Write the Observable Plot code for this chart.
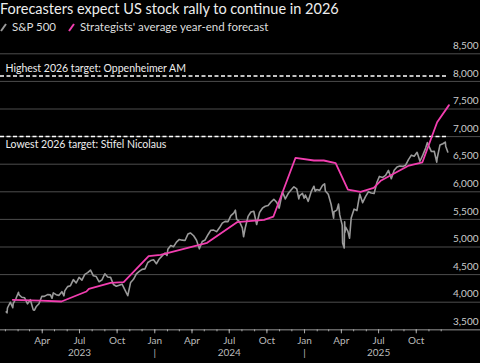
<!DOCTYPE html>
<html>
<head>
<meta charset="utf-8">
<script src="https://cdn.jsdelivr.net/npm/d3@7"></script>
<script src="https://cdn.jsdelivr.net/npm/@observablehq/plot@0.6"></script>
<style>
  html, body { margin: 0; padding: 0; background: #000; }
  #wrap { position: relative; width: 480px; height: 363px; overflow: hidden; background: #000; font-family: Lato, "Liberation Sans", sans-serif; }
  #title { position: absolute; left: 0; top: 0; font-size: 14.5px; line-height: 17px; color: #eee; white-space: nowrap; }
  #legend { position: absolute; left: 0; top: 19px; font-size: 11.5px; line-height: 16px; color: #ddd; white-space: nowrap; display: flex; align-items: center; }
  #legend .item { display: flex; align-items: center; margin-right: 12px; }
  #legend svg { margin-right: 5px; }
  #chart { position: absolute; left: 0; top: 36px; }
</style>
</head>
<body>
<div id="wrap">
  <div id="title">Forecasters expect US stock rally to continue in 2026</div>
  <div id="legend"></div>
  <div id="chart"></div>
</div>
<script>
// ---- data ----
const spxDates = [
"2023-01-03","2023-01-05","2023-01-06","2023-01-13","2023-01-19","2023-01-20","2023-01-27","2023-02-02","2023-02-03","2023-02-10","2023-02-17","2023-02-24","2023-03-03","2023-03-10","2023-03-13","2023-03-17","2023-03-24","2023-03-31","2023-04-06","2023-04-14","2023-04-21","2023-04-25","2023-04-28","2023-05-05","2023-05-12","2023-05-19","2023-05-24","2023-05-26","2023-06-02","2023-06-09","2023-06-16","2023-06-23","2023-06-30","2023-07-07","2023-07-14","2023-07-21","2023-07-28","2023-08-04","2023-08-11","2023-08-18","2023-08-25","2023-09-01","2023-09-08","2023-09-15","2023-09-22","2023-09-29","2023-10-06","2023-10-13","2023-10-20","2023-10-27","2023-11-03","2023-11-10","2023-11-17","2023-11-24","2023-12-01","2023-12-08","2023-12-15","2023-12-22","2023-12-29",
"2024-01-05","2024-01-12","2024-01-19","2024-01-26","2024-01-31","2024-02-02","2024-02-09","2024-02-16","2024-02-23","2024-03-01","2024-03-08","2024-03-15","2024-03-22","2024-03-28","2024-04-05","2024-04-12","2024-04-19","2024-04-26","2024-05-03","2024-05-10","2024-05-17","2024-05-24","2024-05-31","2024-06-07","2024-06-14","2024-06-21","2024-06-28","2024-07-05","2024-07-12","2024-07-16","2024-07-19","2024-07-26","2024-08-02","2024-08-05","2024-08-09","2024-08-16","2024-08-23","2024-08-30","2024-09-06","2024-09-13","2024-09-20","2024-09-27","2024-10-04","2024-10-11","2024-10-18","2024-10-25","2024-10-31","2024-11-08","2024-11-15","2024-11-22","2024-11-29","2024-12-06","2024-12-13","2024-12-18","2024-12-20","2024-12-27","2024-12-31",
"2025-01-03","2025-01-10","2025-01-17","2025-01-24","2025-01-27","2025-01-31","2025-02-07","2025-02-14","2025-02-19","2025-02-21","2025-02-28","2025-03-07","2025-03-13","2025-03-14","2025-03-21","2025-03-25","2025-03-28","2025-04-03","2025-04-04","2025-04-08","2025-04-09","2025-04-10","2025-04-11","2025-04-17","2025-04-21","2025-04-25","2025-05-02","2025-05-09","2025-05-16","2025-05-23","2025-05-30","2025-06-06","2025-06-13","2025-06-20","2025-06-27","2025-07-03","2025-07-11","2025-07-18","2025-07-25","2025-08-01","2025-08-08","2025-08-15","2025-08-22","2025-08-29","2025-09-05","2025-09-12","2025-09-19","2025-09-26","2025-10-03","2025-10-10","2025-10-17","2025-10-24","2025-10-28","2025-10-31","2025-11-07","2025-11-14","2025-11-20","2025-11-21","2025-11-28","2025-12-05","2025-12-11","2025-12-12","2025-12-17"
];
const spxValues = [
3825,3808,3895,3999,3899,3972,4071,4180,4136,4090,4079,3970,4045,3861,3855,3917,3971,4109,4105,4137,4133,4071,4169,4136,4124,4191,4115,4205,4282,4299,4409,4348,4450,4399,4505,4536,4582,4478,4464,4370,4406,4515,4457,4450,4320,4288,4308,4327,4224,4117,4358,4415,4514,4559,4595,4604,4719,4754,4770,
4697,4784,4840,4891,4846,4959,5027,5006,5089,5137,5124,5117,5234,5254,5204,5123,4967,5100,5128,5223,5303,5305,5278,5347,5432,5465,5460,5567,5615,5667,5505,5459,5346,5186,5344,5554,5634,5648,5408,5626,5703,5738,5751,5815,5864,5808,5705,5996,5871,5969,6032,6090,6051,5872,5931,5971,5882,
5942,5827,5997,6101,6012,6041,6026,6115,6144,6013,5955,5770,5522,5639,5668,5777,5581,5397,5074,4983,5457,5268,5363,5283,5158,5525,5686,5660,5958,5803,5912,6000,5977,5968,6173,6279,6260,6297,6389,6238,6389,6450,6467,6460,6482,6584,6664,6644,6716,6553,6664,6792,6891,6840,6729,6734,6538,6603,6849,6870,6901,6827,6721
];
const fcDates = ["2023-01-19","2023-03-28","2023-05-18","2023-07-18","2023-07-24","2023-09-15","2023-10-17","2023-12-17","2024-01-15","2024-05-08","2024-05-16","2024-07-20","2024-09-24","2024-10-17","2024-12-10","2025-01-24","2025-02-17","2025-03-18","2025-04-17","2025-05-18","2025-06-19","2025-07-06","2025-09-13","2025-10-16","2025-11-21","2025-12-20"];
const fcValues = [4043,4030,4013,4194,4243,4351,4362,4833,4858,5076,5118,5449,5493,5552,6616,6567,6567,6518,6040,6000,6070,6200,6475,6535,7260,7570];
const targetValues = [8100, 7000];
const targetLabels = ["Highest 2026 target: Oppenheimer AM", "Lowest 2026 target: Stifel Nicolaus"];
const yTicks = [3500,4000,4500,5000,5500,6000,6500,7000,7500,8000,8500];
const seriesNames = ["S&P 500", "Strategists' average year-end forecast"];
const seriesColors = ["#9a9a9a", "#f23eb0"];
const quarterTicks = ["2023-04-01","2023-07-01","2023-10-01","2024-01-01","2024-04-01","2024-07-01","2024-10-01","2025-01-01","2025-04-01","2025-07-01","2025-10-01"];
const yearLabelDates = ["2023-07-01","2024-07-01","2025-07-01"];
const yearSepDates = ["2024-01-01","2025-01-01"];
const xDomain = ["2022-12-20","2026-03-07"];
const dashEnd = "2025-12-17";

// ---- build ----
const P = d3.utcParse("%Y-%m-%d");
const spx = spxDates.map((d, i) => ({date: P(d), value: spxValues[i]}));
const fc = fcDates.map((d, i) => ({date: P(d), value: fcValues[i]}));
const x0 = P(xDomain[0]), x1 = P(xDomain[1]), xe = P(dashEnd);
const monthTicks = d3.utcMonths(P("2023-01-01"), P("2026-01-01"));
const qTicks = quarterTicks.map(P);
const fontFamily = "Lato, 'Liberation Sans', sans-serif";

// legend
const legend = document.getElementById("legend");
seriesNames.forEach((name, i) => {
  const item = document.createElement("div");
  item.className = "item";
  item.innerHTML = `<svg width="7" height="9"><line x1="1" y1="8" x2="6" y2="1" stroke="${seriesColors[i]}" stroke-width="2"/></svg><span>${name}</span>`;
  legend.appendChild(item);
});

const chart = Plot.plot({
  width: 480,
  height: 327,
  marginTop: 17.3,
  marginBottom: 33.7,
  marginLeft: 0,
  marginRight: 0,
  style: {background: "transparent", color: "#bbb", fontFamily, fontSize: "10px"},
  x: {type: "utc", domain: [x0, x1]},
  y: {domain: [3500, 8500], axis: null},
  marks: [
    Plot.gridY(yTicks, {stroke: "#4d4d4d", strokeOpacity: 1}),
    Plot.ruleY([3500], {stroke: "#777"}),
    Plot.text(yTicks, {x: () => x1, y: d => d, text: d3.format(","), textAnchor: "end", dx: -2, dy: -8, fill: "#ccc", fontSize: 10}),
    Plot.ruleY(targetValues, {x1: () => x0, x2: () => xe, stroke: "#fff", strokeDasharray: "4,2.5", strokeWidth: 1.5}),
    Plot.text([targetLabels[0]], {x: () => x0, y: () => targetValues[0], text: d => d, textAnchor: "start", dx: 5, dy: -7, fill: "#eee", fontSize: 10.5}),
    Plot.text([targetLabels[1]], {x: () => x0, y: () => targetValues[1], text: d => d, textAnchor: "start", dx: 5, dy: 8, fill: "#eee", fontSize: 10.5}),
    Plot.line(spx, {x: "date", y: "value", stroke: seriesColors[0], strokeWidth: 1.6}),
    Plot.line(fc, {x: "date", y: "value", stroke: seriesColors[1], strokeWidth: 1.8}),
    Plot.axisX(monthTicks, {tickSize: 2, tickFormat: () => "", stroke: "#aaa", label: null}),
    Plot.axisX(qTicks, {tickSize: 4, tickPadding: 3, tickFormat: d3.utcFormat("%b"), stroke: "#aaa", fill: "#bbb", label: null}),
    Plot.axisX(yearLabelDates.map(P), {tickSize: 0, tickPadding: 3, dy: 16, tickFormat: d3.utcFormat("%Y"), fill: "#bbb", label: null}),
    Plot.axisX(yearSepDates.map(P), {tickSize: 0, tickPadding: 3, dy: 16, tickFormat: () => "|", fill: "#bbb", label: null})
  ]
});
document.getElementById("chart").appendChild(chart);
</script>
</body>
</html>
